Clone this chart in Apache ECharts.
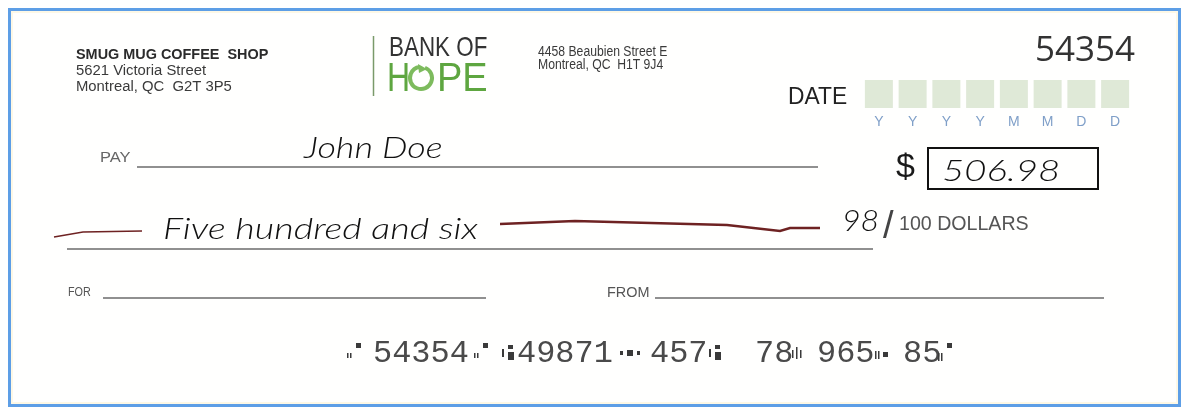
<!DOCTYPE html>
<html>
<head>
<meta charset="utf-8">
<script src="https://cdn.jsdelivr.net/npm/echarts@6/dist/echarts.min.js"></script>
<style>
  html, body { margin: 0; padding: 0; background: #fff; }
  #chart { width: 1187px; height: 411px; }
</style>
</head>
<body>
<div id="chart"></div>
<script>
// cheque content
const drawerLines = ['SMUG MUG COFFEE  SHOP', '5621 Victoria Street', 'Montreal, QC  G2T 3P5'];
const bankName = ['BANK OF', 'H', 'PE'];
const bankAddress = ['4458 Beaubien Street E', 'Montreal, QC  H1T 9J4'];
const chequeNumber = '54354';
const dateLabels = ['Y', 'Y', 'Y', 'Y', 'M', 'M', 'D', 'D'];
const dateBoxes = [1, 1, 1, 1, 1, 1, 1, 1];
const payee = 'John Doe';
const amount = 506.98;
const amountWords = 'Five hundred and six';
const fieldLabels = ['PAY', 'FOR', 'FROM', 'DATE', '100 DOLLARS'];
const micrGroups = ['54354', '49871', '457', '78', '965', '85'];

const cents = amount.toFixed(2).split('.')[1];
const hand = 'italic 300 30px Lato, "Open Sans", sans-serif';
const sans = '"Liberation Sans", Arial, sans-serif';

// text placed at (x, y); sx squeezes or stretches it horizontally
function text(x, y, str, font, fill, align, sx) {
  const a = align || 'left';
  return {
    type: 'text', silent: true, x, y, scaleX: sx || 1,
    style: { x: 0, y: 0, text: str, font, fill,
      align: a, verticalAlign: 'middle', textAlign: a, textVerticalAlign: 'middle' }
  };
}
function hline(x1, x2, y, color, w) {
  return { type: 'line', silent: true,
    shape: { x1, y1: y, x2, y2: y },
    style: { stroke: color || '#6b6b6b', lineWidth: w || 1.5 } };
}
function box(x, y, w, h) {
  return { type: 'rect', silent: true, shape: { x, y, width: w, height: h }, style: { fill: '#3a3a3a' } };
}
// MICR control symbols, drawn as little blocks
function onUs(x, tall) {
  const h = tall ? 8 : 5;
  return [box(x, 353, 1.5, h), box(x + 3, 353, 1.5, h), box(x + 9, 343, 5, 5)];
}
function transit(x) {
  return [box(x, 349, 2, 8), box(x + 6, 345, 5, 4), box(x + 6, 352, 6, 8)];
}
function dash(x) {
  return [box(x, 351, 3, 4), box(x + 7, 350, 6, 6), box(x + 17, 351, 3, 4)];
}
function amountSym(x) {
  return [box(x, 350, 1.5, 8), box(x + 4, 347, 1.5, 12), box(x + 8, 350, 1.5, 8)];
}
function dashSmall(x) {
  return [box(x, 351, 1.5, 8), box(x + 3, 351, 1.5, 8), box(x + 8, 352, 5, 5)];
}

const micrX = [373, 517, 650, 755, 817, 903];
const micrFont = '31px "Liberation Mono", "DejaVu Sans Mono", monospace';

const graphics = [
  // frame
  { type: 'rect', silent: true, shape: { x: 9.5, y: 9.5, width: 1170, height: 396 },
    style: { fill: '#fffffe', stroke: '#5d9ee6', lineWidth: 3 } },
  { type: 'rect', silent: true, shape: { x: 12, y: 12, width: 1165, height: 391 },
    style: { fill: 'none', stroke: '#fdf8e6', lineWidth: 2 } },

  // drawer block
  text(76, 55, drawerLines[0], 'bold 14px ' + sans, '#2b2b2b', 'left', 1.03),
  text(76, 71, drawerLines[1], '14px ' + sans, '#3a3a3a', 'left', 1.06),
  text(76, 87, drawerLines[2], '14px ' + sans, '#3a3a3a', 'left', 1.06),

  // bank logo
  { type: 'line', silent: true, shape: { x1: 373.5, y1: 36, x2: 373.5, y2: 96 },
    style: { stroke: '#7a9a6a', lineWidth: 1.5 } },
  text(389, 48, bankName[0], '28px ' + sans, '#333', 'left', 0.8),
  text(387, 80, bankName[1], '40px ' + sans, '#5ea640', 'left', 0.8),
  { type: 'arc', silent: true, shape: { cx: 421, cy: 78, r: 11, startAngle: -1.2, endAngle: 4.6 },
    style: { stroke: '#7dbb5d', lineWidth: 4, fill: 'none' } },
  { type: 'polygon', silent: true, shape: { points: [[418, 64], [427, 69], [419, 73]] },
    style: { fill: '#7dbb5d' } },
  text(437, 80, bankName[2], '40px ' + sans, '#5ea640', 'left', 0.95),

  // bank address
  text(538, 52, bankAddress[0], '14px ' + sans, '#3a3a3a', 'left', 0.87),
  text(538, 65, bankAddress[1], '14px ' + sans, '#3a3a3a', 'left', 0.87),

  // cheque number and date
  text(1135, 51, chequeNumber, '35px "Open Sans", sans-serif', '#333', 'right'),
  text(788, 97, fieldLabels[3], '24px ' + sans, '#222', 'left', 0.95),

  // pay line
  text(100, 158, fieldLabels[0], '15px ' + sans, '#666', 'left', 1.1),
  hline(137, 818, 167),
  text(304, 148, payee, hand, '#111', 'left', 1.2),
  text(915, 168, '$', '34px ' + sans, '#1a1a1a', 'right'),
  { type: 'rect', silent: true, shape: { x: 928, y: 148, width: 170, height: 41 },
    style: { fill: 'none', stroke: '#111', lineWidth: 2 } },
  text(942, 171, amount.toFixed(2), hand, '#111', 'left', 1.28),

  // amount in words
  { type: 'polyline', silent: true,
    shape: { points: [[54, 237], [83, 232], [142, 231]] },
    style: { stroke: '#6e2222', lineWidth: 1.5, fill: 'none' } },
  text(163, 229, amountWords, hand, '#111', 'left', 1.26),
  { type: 'polyline', silent: true,
    shape: { points: [[500, 224], [575, 221], [727, 225], [780, 231], [790, 228], [820, 228]] },
    style: { stroke: '#6e2222', lineWidth: 2.5, fill: 'none' } },
  hline(67, 873, 249),
  text(842, 221, cents, hand, '#111', 'left', 1.07),
  text(883, 228, '/', '38px ' + sans, '#444'),
  text(899, 224, fieldLabels[4], '20px ' + sans, '#555', 'left', 0.98),

  // for / from
  text(68, 293, fieldLabels[1], '12px ' + sans, '#555', 'left', 0.9),
  hline(103, 486, 298),
  text(607, 293, fieldLabels[2], '14px ' + sans, '#555', 'left', 1.03),
  hline(655, 1104, 298)
];

// MICR line
micrGroups.forEach((g, i) => {
  graphics.push(text(micrX[i], 354, g, micrFont, '#4a4a4a', 'left', 1.03));
});
graphics.push(...onUs(347), ...onUs(474), ...transit(502), ...dash(620),
  ...transit(709), ...amountSym(792), ...dashSmall(875), ...onUs(938, true));

const chart = echarts.init(document.getElementById('chart'), null, { renderer: 'canvas' });
chart.setOption({
  animation: false,
  backgroundColor: '#fff',
  grid: { left: 862, top: 80, width: 270, height: 28, containLabel: false },
  xAxis: {
    type: 'category',
    data: dateLabels,
    axisLine: { show: false },
    axisTick: { show: false },
    axisLabel: { color: '#7f9fc8', fontSize: 14, margin: 7, fontFamily: 'Liberation Sans', interval: 0 }
  },
  yAxis: { type: 'value', min: 0, max: 1, show: false },
  series: [{
    type: 'bar',
    data: dateBoxes,
    barWidth: 28,
    silent: true,
    itemStyle: { color: '#dfe9d7' }
  }],
  graphic: { elements: graphics }
});
</script>
</body>
</html>
